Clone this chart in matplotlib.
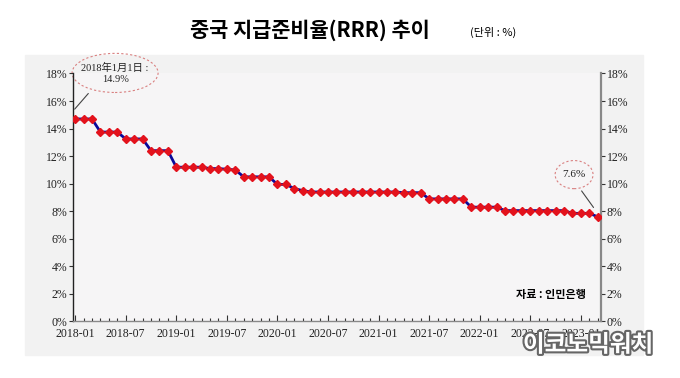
import numpy as np
import matplotlib
matplotlib.use('Agg')
from matplotlib import pyplot as plt
from matplotlib.patches import Ellipse, Rectangle
import matplotlib.patheffects as pe

plt.rcParams['font.family'] = ['Liberation Serif', 'Noto Sans CJK JP']

# 월별 지급준비율 (2018-01 ~ 2023-03)
rrr = [14.7, 14.7, 14.7,
       13.75, 13.75, 13.75,
       13.25, 13.25, 13.25,
       12.4, 12.4, 12.4,
       11.2, 11.2, 11.2, 11.2, 11.1, 11.1, 11.05, 11.0,
       10.5, 10.5, 10.5, 10.5,
       9.95, 9.95,
       9.65, 9.5,
       9.4, 9.4, 9.4, 9.4, 9.4, 9.4, 9.4, 9.4, 9.4, 9.4, 9.4, 9.35, 9.35, 9.35,
       8.9, 8.9, 8.9, 8.9, 8.9,
       8.3, 8.3, 8.3, 8.3,
       8.05, 8.05, 8.05, 8.05, 8.05, 8.05, 8.05, 8.05,
       7.85, 7.85, 7.85,
       7.6]
bulan = np.arange(len(rrr))
label_x = ['2018-01', '2018-07', '2019-01', '2019-07', '2020-01', '2020-07',
           '2021-01', '2021-07', '2022-01', '2022-07', '2023-01']
pos_x = np.arange(0, 61, 6)
label_y = [0, 2, 4, 6, 8, 10, 12, 14, 16, 18]

fig = plt.figure(figsize=(6.8, 3.78), dpi=100)
fig.patch.set_facecolor('white')
fig.patches.append(Rectangle((25/680, 1-355/378), 618/680, 300/378,
                             transform=fig.transFigure, color='#f2f2f2', zorder=-1))

ax = fig.add_axes([0.1074, 0.1495, 0.7765, 0.6561])
ax.set_facecolor('#f6f5f6')
ax.plot(bulan, rrr, color='#0a0a9a', lw=2, marker='D', ms=4.5,
        mfc='#e3121c', mec='#e3121c', zorder=3)

ax.set_xlim(-0.25, 62.4)
ax.set_ylim(0, 18)
ax.set_xticks(pos_x)
ax.set_xticklabels(label_x, fontsize=8.5)
ax.set_xticks(bulan, minor=True)
ax.set_yticks(label_y)
ax.set_yticklabels([str(v) + '%' for v in label_y], fontsize=8.5)
ax.tick_params(axis='x', which='both', direction='in', colors='#333333', pad=5)
ax.tick_params(axis='x', which='major', length=4, width=0.8)
ax.tick_params(axis='x', which='minor', length=2, width=0.8)
ax.tick_params(axis='y', direction='out', length=3, width=0.8, pad=1,
               left=True, right=True, labelleft=True, labelright=True, colors='#333333')
for lab in ax.get_xticklabels() + ax.get_yticklabels():
    lab.set_color('#222222')
ax.spines['top'].set_visible(False)
ax.spines['left'].set_color('#222222')
ax.spines['left'].set_linewidth(1)
ax.spines['right'].set_color('#888888')
ax.spines['right'].set_linewidth(1.6)
ax.spines['bottom'].set_color('#888888')
ax.spines['bottom'].set_linewidth(1)

# anotasi
ax.add_patch(Ellipse((4.74, 18.04), 10.2, 2.84, fill=False, ec='#d98080',
                     ls=(0, (2, 2)), lw=0.8, clip_on=False))
ax.text(4.74, 18.0, '2018年1月1日 :\n14.9%', ha='center', va='center',
        fontsize=7.5, linespacing=1.3, color='#222222')
ax.annotate('', xy=(-0.27, 15.26), xytext=(1.78, 16.7),
            arrowprops=dict(arrowstyle='-', color='#444444', lw=0.8),
            annotation_clip=False)

ax.add_patch(Ellipse((59.2, 10.66), 4.5, 2.04, fill=False, ec='#d98080',
                     ls=(0, (2, 2)), lw=0.8, clip_on=False))
ax.text(59.2, 10.66, '7.6%', ha='center', va='center', fontsize=8, color='#222222')
ax.annotate('', xy=(61.7, 8.11), xytext=(59.9, 9.64),
            arrowprops=dict(arrowstyle='-', color='#444444', lw=0.8))

fig.text(0.456, 0.921, '중국 지급준비율(RRR) 추이', ha='center', va='center',
         fontsize=15, fontweight='bold', family=['Noto Sans CJK KR'])
fig.text(0.725, 0.913, '(단위 : %)', ha='center', va='center',
         fontsize=8, family=['Noto Sans CJK KR'])
fig.text(0.81, 0.222, '자료 : 인민은행', ha='center', va='center',
         fontsize=8, fontweight='bold', family=['Noto Sans CJK KR'])

fig.text(0.865, 0.088, '이코노믹워치', ha='center', va='center', fontsize=17,
         fontweight='bold', color='white', family=['Noto Sans CJK KR'],
         path_effects=[pe.withStroke(linewidth=3, foreground='#666666')])

fig.savefig('out.png', dpi=100)
